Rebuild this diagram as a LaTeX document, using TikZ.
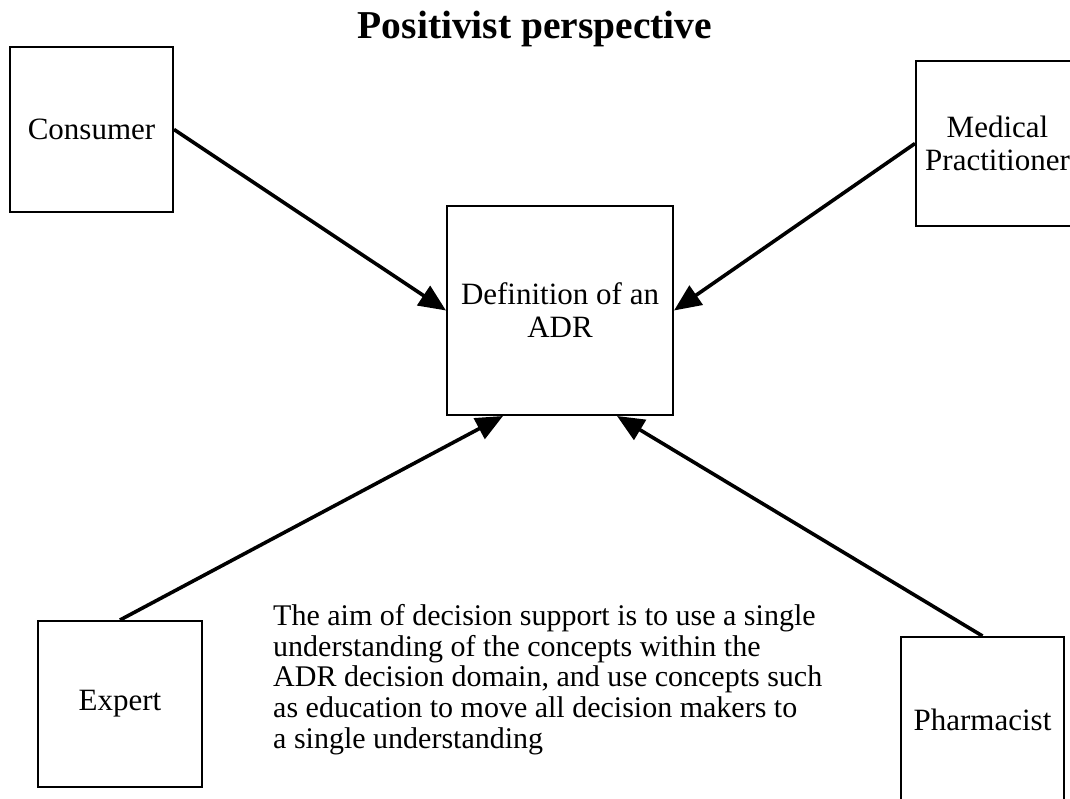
\documentclass[tikz,border=0pt]{standalone}
\usepackage{fontspec}
\setmainfont{Liberation Serif}
\usetikzlibrary{arrows.meta}
\begin{document}
\begin{tikzpicture}[x=1pt,y=-1pt,
  box/.style={draw,line width=2pt,align=center,inner sep=0pt,
    font=\fontsize{31}{33}\selectfont},
  link/.style={line width=3.6pt,-{Triangle[length=27pt,width=23pt]}}]
  \useasboundingbox (0,0) rectangle (1070,799);
  \clip (0,0) rectangle (1070,799);
  \node[font=\bfseries\fontsize{39.5}{44}\selectfont] (title) at (535,29) {Positivist perspective};
  \node[box,minimum width=163pt,minimum height=165pt] (cons) at (91.5,129.5) {Consumer};
  \node[box,minimum width=163pt,minimum height=165pt] (med) at (997.5,143.5) {Medical\\Practitioner};
  \node[box,minimum width=226pt,minimum height=209pt] (def) at (560,310.5) {Definition of an\\ADR};
  \node[box,minimum width=164pt,minimum height=166pt] (exp) at (120,704) {Expert};
  \node[box,minimum width=163pt,minimum height=166pt] (ph) at (982.5,720) {Pharmacist};
  \node[anchor=north west,align=left,inner sep=0pt,
    font=\fontsize{30}{30.7}\selectfont] (aim) at (273,604)
    {The aim of decision support is to use a single\\
     understanding of the concepts within the\\
     ADR decision domain, and use concepts such\\
     as education to move all decision makers to\\
     a single understanding};
  \draw[link] (cons.east) -- (def.west);
  \draw[link] (med.west) -- (def.east);
  \draw[link] (exp.north) -- ([xshift=-57pt]def.south);
  \draw[link] (ph.north) -- ([xshift=57pt]def.south);
\end{tikzpicture}
\end{document}
